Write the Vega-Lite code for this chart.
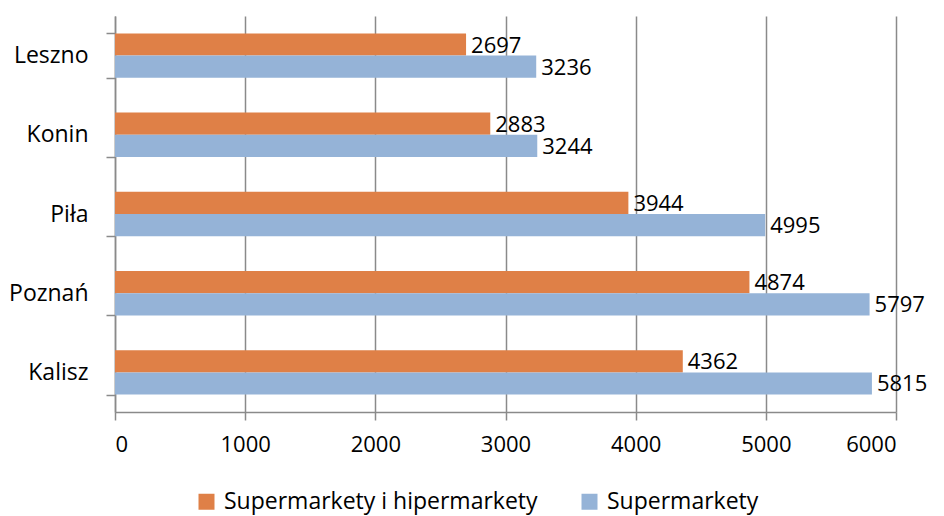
{
  "$schema": "https://vega.github.io/schema/vega-lite/v6.json",
  "width": 781,
  "height": 396,
  "autosize": "none",
  "padding": {"left": 115, "top": 16, "right": 48, "bottom": 104},
  "background": "white",
  "config": {
    "view": {"stroke": null},
    "font": "Open Sans",
    "axis": {"labelFont": "Open Sans", "labelFontSize": 22, "labelColor": "black", "domainColor": "#8a8a8a", "tickColor": "#8a8a8a", "domainWidth": 1.5, "tickWidth": 1.5, "gridColor": "#8a8a8a", "gridWidth": 1.5},
    "legend": {"labelFont": "Open Sans", "labelFontSize": 23, "labelColor": "black", "labelLimit": 500}
  },
  "data": {
    "values": [
      {"miasto": "Leszno", "seria": "Supermarkety i hipermarkety", "wartosc": 2697},
      {"miasto": "Leszno", "seria": "Supermarkety", "wartosc": 3236},
      {"miasto": "Konin", "seria": "Supermarkety i hipermarkety", "wartosc": 2883},
      {"miasto": "Konin", "seria": "Supermarkety", "wartosc": 3244},
      {"miasto": "Piła", "seria": "Supermarkety i hipermarkety", "wartosc": 3944},
      {"miasto": "Piła", "seria": "Supermarkety", "wartosc": 4995},
      {"miasto": "Poznań", "seria": "Supermarkety i hipermarkety", "wartosc": 4874},
      {"miasto": "Poznań", "seria": "Supermarkety", "wartosc": 5797},
      {"miasto": "Kalisz", "seria": "Supermarkety i hipermarkety", "wartosc": 4362},
      {"miasto": "Kalisz", "seria": "Supermarkety", "wartosc": 5815}
    ]
  },
  "encoding": {
    "y": {
      "field": "miasto", "type": "nominal",
      "sort": ["Leszno", "Konin", "Piła", "Poznań", "Kalisz"],
      "scale": {"paddingInner": 0.44, "paddingOuter": 0.22},
      "axis": {"title": null, "tickBand": "extent", "tickSize": 9, "labelPadding": 18, "labelFontSize": 23, "grid": false}
    },
    "yOffset": {
      "field": "seria", "type": "nominal",
      "sort": ["Supermarkety i hipermarkety", "Supermarkety"],
      "scale": {"paddingInner": 0, "paddingOuter": 0}
    },
    "x": {
      "field": "wartosc", "type": "quantitative",
      "scale": {"domain": [0, 6000], "nice": false},
      "axis": {"title": null, "values": [0, 1000, 2000, 3000, 4000, 5000, 6000], "tickSize": 8, "labelPadding": 14, "grid": true, "format": "d"}
    }
  },
  "layer": [
    {
      "mark": {"type": "bar"},
      "encoding": {
        "color": {
          "field": "seria", "type": "nominal",
          "scale": {"domain": ["Supermarkety i hipermarkety", "Supermarkety"], "range": ["#DF8047", "#95B3D7"]},
          "legend": {"title": null, "orient": "none", "legendX": 80, "legendY": 474, "direction": "horizontal", "symbolType": "square", "symbolSize": 256, "symbolStrokeWidth": 0, "columnPadding": 40, "labelOffset": 6}
        }
      }
    },
    {
      "mark": {"type": "text", "align": "left", "baseline": "middle", "dx": 5, "dy": 1, "fontSize": 22, "font": "Open Sans", "color": "black"},
      "encoding": {
        "text": {"field": "wartosc", "type": "quantitative", "format": "d"}
      }
    }
  ]
}
